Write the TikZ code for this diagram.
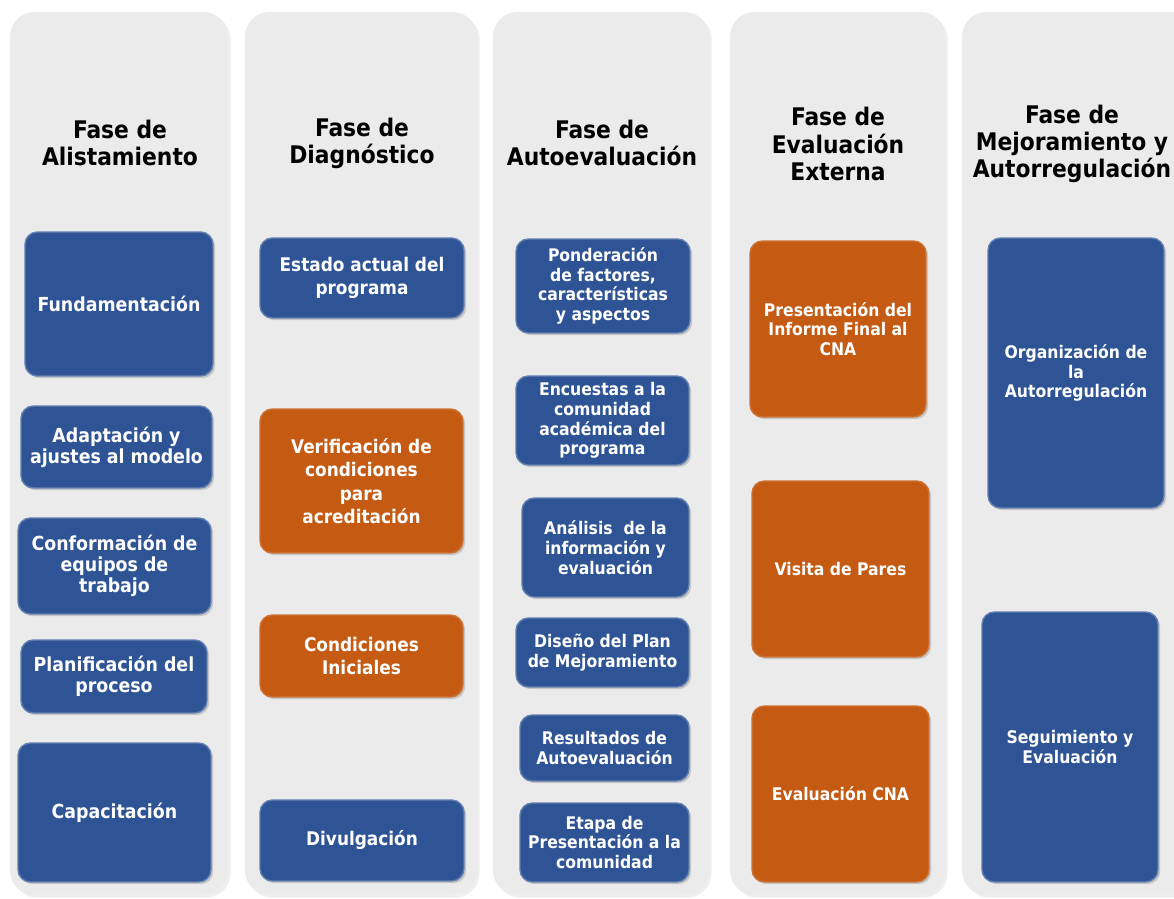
\documentclass[tikz,border=0pt]{standalone}
\usepackage{fontspec}
\setmainfont{DejaVu Sans}
\newfontfamily\narrowfont{DejaVu Sans Condensed}
\usepackage{tikz}
\usetikzlibrary{shadows}
\definecolor{panelgray}{RGB}{235,235,235}
\definecolor{boxblue}{RGB}{47,84,150}
\definecolor{boxorange}{RGB}{197,90,18}
\tikzstyle{panel} = [fill=panelgray, rounded corners=14pt, drop shadow={opacity=0.12, shadow xshift=1.5pt, shadow yshift=-1.5pt}]
\tikzstyle{phase} = [align=center, text=black, font=\narrowfont\bfseries\fontsize{13.8}{15.4}\selectfont]
\tikzstyle{card} = [rounded corners=7pt, text=white, align=center, inner sep=2pt, drop shadow={opacity=0.35, shadow xshift=1.2pt, shadow yshift=-1.2pt}]
\tikzstyle{bluebox} = [card, fill=boxblue, draw=boxblue!75!white, line width=0.8pt]
\tikzstyle{orangebox} = [card, fill=boxorange, draw=boxorange!85!white, line width=0.8pt]
\tikzstyle{colA} = [font=\narrowfont\bfseries\fontsize{11}{12}\selectfont]
\tikzstyle{colB} = [font=\narrowfont\bfseries\fontsize{10.7}{13.4}\selectfont]
\tikzstyle{colC} = [font=\narrowfont\bfseries\fontsize{9.9}{11.2}\selectfont]

\begin{document}
\begin{tikzpicture}[x=0.02cm, y=-0.02cm]

  \useasboundingbox (0,0) rectangle (1174,899);
  \fill[white] (0,0) rectangle (1174,899);

  % Panels
  \path[panel] (10,12) rectangle (228,895);
  \path[panel] (245,12) rectangle (477,895);
  \path[panel] (493,12) rectangle (709,895);
  \path[panel] (730,12) rectangle (945,895);
  \path[panel] (962,12) rectangle (1200,895);

  % Titles
  \node (alist) [phase] at (120,143) {Fase de\\Alistamiento};
  \node (diag) [phase] at (362,143) {Fase de\\Diagnóstico};
  \node (autoev) [phase] at (602,143) {Fase de\\Autoevaluación};
  \node (externa) [phase] at (838,144) {Fase de\\Evaluación\\Externa};
  \node (mejora) [phase] at (1072,144) {Fase de\\Mejoramiento y\\Autorregulación};

  % Alistamiento
  \node (fund) [bluebox, colA, minimum width=3.76cm, minimum height=2.88cm] at (119,304) {Fundamentación};
  \node (adapt) [bluebox, colA, minimum width=3.82cm, minimum height=1.64cm] at (116.5,447) {Adaptación y\\ajustes al modelo};
  \node (equipos) [bluebox, colA, minimum width=3.86cm, minimum height=1.92cm] at (114.5,566) {Conformación de\\equipos de\\trabajo};
  \node (plan) [bluebox, colA, minimum width=3.72cm, minimum height=1.46cm] at (114,676.5) {Planificación del\\proceso};
  \node (capa) [bluebox, colA, minimum width=3.86cm, minimum height=2.78cm] at (114.5,812.5) {Capacitación};

  % Diagnostico
  \node (estado) [bluebox, colB, minimum width=4.08cm, minimum height=1.6cm] at (362,278) {Estado actual del\\programa};
  \node (verif) [orangebox, colB, minimum width=4.06cm, minimum height=2.88cm] at (361.5,481) {Verificación de\\condiciones\\para\\acreditación};
  \node (inic) [orangebox, colB, minimum width=4.06cm, minimum height=1.64cm] at (361.5,656) {Condiciones\\Iniciales};
  \node (divul) [bluebox, colB, minimum width=4.08cm, minimum height=1.62cm] at (362,840.5) {Divulgación};

  % Autoevaluacion
  \node (pond) [bluebox, colC, minimum width=3.48cm, minimum height=1.88cm] at (603,286) {Ponderación\\de factores,\\características\\y aspectos};
  \node (encu) [bluebox, colC, minimum width=3.46cm, minimum height=1.78cm] at (602.5,420.5) {Encuestas a la\\comunidad\\académica del\\programa};
  \node (anal) [bluebox, colC, minimum width=3.34cm, minimum height=1.98cm] at (605.5,547.5) {Análisis~~de la\\información y\\evaluación};
  \node (diseno) [bluebox, colC, minimum width=3.46cm, minimum height=1.38cm] at (602.5,652.5) {Diseño del Plan\\de Mejoramiento};
  \node (result) [bluebox, colC, minimum width=3.38cm, minimum height=1.32cm] at (604.5,748) {Resultados de\\Autoevaluación};
  \node (etapa) [bluebox, colC, minimum width=3.38cm, minimum height=1.58cm] at (604.5,842.5) {Etapa de\\Presentación a la\\comunidad};

  % Evaluacion externa
  \node (informe) [orangebox, colC, minimum width=3.52cm, minimum height=3.52cm] at (838,329) {Presentación del\\Informe Final al\\CNA};
  \node (pares) [orangebox, colC, minimum width=3.54cm, minimum height=3.52cm] at (840.5,569) {Visita de Pares};
  \node (cna) [orangebox, colC, minimum width=3.54cm, minimum height=3.52cm] at (840.5,794) {Evaluación CNA};

  % Mejoramiento
  \node (orga) [bluebox, colC, minimum width=3.52cm, minimum height=5.4cm] at (1076,373) {Organización de\\la\\Autorregulación};
  \node (segui) [bluebox, colC, minimum width=3.52cm, minimum height=5.4cm] at (1070,747) {Seguimiento y\\Evaluación};

\end{tikzpicture}
\end{document}
